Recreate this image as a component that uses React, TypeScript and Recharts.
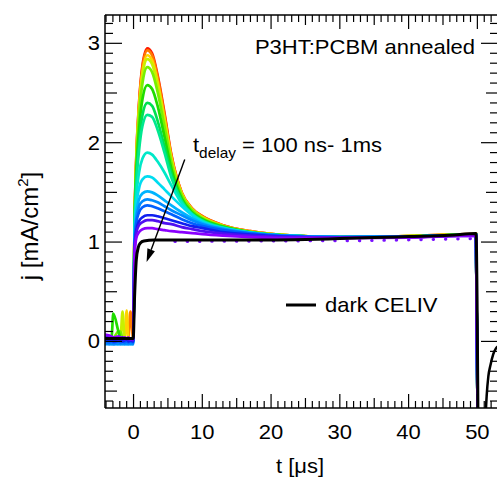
import { LineChart, Line, XAxis, YAxis, ReferenceLine } from "recharts";

const FONT = "'Liberation Sans', Arial, Helvetica, sans-serif";

// time grid (µs) shared by the photo-CELIV transients
const T = [
  -4.2, -3.5, -3.2, -2.95, -2.2, -1.9, -1.6, -1.3, -1.0, -0.75, -0.45, -0.05,
  0.15, 0.4, 0.8, 1.3, 2, 2.7, 3.5, 4.5, 5.5, 7, 8.5, 10, 13, 17, 22, 30, 40, 49.8, 50.05,
];

// current density (mA/cm²), one array per delay time, largest extraction peak first
const J1 = [0.03, 0.02, 0.03, 0.02, 0.03, 0.02, 0.03, 0.02, 0.03, 0.02, 0.03, 0.03,
  1.2, 1.85, 2.4, 2.78, 2.95, 2.9, 2.68, 2.3, 1.88, 1.5, 1.34, 1.26, 1.17, 1.11, 1.07, 1.05, 1.06, 1.08, -0.9];
const J2 = [0.03, 0.03, 0.02, 0.03, 0.02, 0.03, 0.02, 0.03, 0.02, 0.03, 0.3, 0.03,
  1.2, 1.84, 2.38, 2.76, 2.93, 2.88, 2.66, 2.28, 1.87, 1.5, 1.34, 1.26, 1.17, 1.11, 1.07, 1.05, 1.06, 1.08, -0.9];
const J3 = [0.02, 0.03, 0.03, 0.02, 0.03, 0.02, 0.03, 0.02, 0.31, 0.03, 0.03, 0.02,
  1.19, 1.82, 2.35, 2.71, 2.88, 2.83, 2.61, 2.24, 1.85, 1.49, 1.33, 1.25, 1.165, 1.105, 1.07, 1.05, 1.06, 1.08, -0.9];
const J4 = [0.03, 0.02, 0.03, 0.03, 0.02, 0.03, 0.3, 0.03, 0.02, 0.03, 0.02, 0.03,
  1.18, 1.8, 2.32, 2.68, 2.84, 2.79, 2.58, 2.21, 1.83, 1.48, 1.33, 1.25, 1.16, 1.1, 1.07, 1.05, 1.06, 1.075, -0.9];
const J5 = [0.02, 0.03, 0.02, 0.03, 0.1, 0.1, 0.03, 0.02, 0.03, 0.02, 0.03, 0.02,
  1.17, 1.77, 2.26, 2.6, 2.76, 2.71, 2.51, 2.16, 1.8, 1.47, 1.32, 1.24, 1.16, 1.1, 1.07, 1.05, 1.06, 1.075, -0.9];
const J6 = [0.02, 0.02, 0.03, 0.28, 0.1, 0.03, 0.02, 0.03, 0.02, 0.03, 0.02, 0.02,
  1.15, 1.7, 2.13, 2.44, 2.58, 2.54, 2.37, 2.06, 1.74, 1.44, 1.3, 1.23, 1.155, 1.1, 1.065, 1.05, 1.055, 1.075, -0.9];
const J7 = [0.01, 0.02, 0.01, 0.02, 0.01, 0.02, 0.01, 0.02, 0.01, 0.02, 0.01, 0.02,
  1.13, 1.63, 2.0, 2.28, 2.4, 2.37, 2.22, 1.96, 1.69, 1.42, 1.29, 1.22, 1.15, 1.095, 1.065, 1.05, 1.055, 1.075, -0.9];
const J8 = [0.0, 0.01, 0.0, 0.01, 0.0, 0.01, 0.0, 0.01, 0.0, 0.01, 0.0, 0.01,
  1.12, 1.58, 1.92, 2.17, 2.28, 2.26, 2.13, 1.9, 1.65, 1.41, 1.28, 1.215, 1.145, 1.095, 1.065, 1.05, 1.055, 1.075, -0.9];
const J9 = [-0.01, 0.0, -0.01, 0.0, -0.01, 0.0, -0.01, 0.0, -0.01, 0.0, -0.01, 0.0,
  1.08, 1.45, 1.7, 1.84, 1.9, 1.88, 1.81, 1.7, 1.57, 1.39, 1.28, 1.21, 1.14, 1.095, 1.065, 1.05, 1.055, 1.07, -0.9];
const J10 = [-0.02, -0.01, -0.02, -0.01, -0.02, -0.01, -0.02, -0.01, -0.02, -0.01, -0.02, -0.01,
  1.04, 1.35, 1.54, 1.63, 1.66, 1.65, 1.6, 1.53, 1.46, 1.36, 1.27, 1.2, 1.14, 1.095, 1.065, 1.05, 1.055, 1.07, -0.9];
const J11 = [-0.03, -0.02, -0.03, -0.02, -0.03, -0.02, -0.03, -0.02, -0.03, -0.02, -0.03, -0.02,
  1.0, 1.28, 1.43, 1.49, 1.51, 1.5, 1.47, 1.42, 1.37, 1.3, 1.24, 1.19, 1.135, 1.09, 1.065, 1.05, 1.055, 1.07, -0.9];
const J12 = [-0.02, -0.03, -0.02, -0.03, -0.02, -0.03, -0.02, -0.03, -0.02, -0.03, -0.02, -0.03,
  0.98, 1.23, 1.36, 1.41, 1.43, 1.42, 1.4, 1.36, 1.32, 1.27, 1.22, 1.18, 1.13, 1.09, 1.065, 1.05, 1.055, 1.07, -0.9];
const J13 = [0.0, -0.01, 0.0, -0.01, 0.0, -0.01, 0.0, -0.01, 0.0, -0.01, 0.0, -0.01,
  0.96, 1.19, 1.3, 1.35, 1.37, 1.36, 1.34, 1.31, 1.28, 1.23, 1.19, 1.16, 1.12, 1.085, 1.06, 1.05, 1.055, 1.07, -0.9];
const J14 = [0.02, 0.01, 0.02, 0.0, 0.01, 0.02, 0.0, 0.01, 0.02, 0.0, 0.01, 0.0,
  0.93, 1.12, 1.21, 1.25, 1.27, 1.27, 1.26, 1.24, 1.22, 1.19, 1.16, 1.14, 1.1, 1.075, 1.055, 1.045, 1.05, 1.07, -0.9];
const J15 = [0.05, 0.04, 0.03, 0.04, 0.02, 0.03, 0.04, 0.02, 0.03, 0.02, 0.03, 0.01,
  0.91, 1.09, 1.17, 1.2, 1.22, 1.22, 1.21, 1.19, 1.18, 1.15, 1.13, 1.11, 1.085, 1.065, 1.05, 1.045, 1.05, 1.065, -0.9];
const J16 = [0.07, 0.06, 0.05, 0.04, 0.05, 0.04, 0.03, 0.04, 0.03, 0.04, 0.02, 0.03,
  0.88, 1.04, 1.1, 1.13, 1.14, 1.14, 1.13, 1.12, 1.11, 1.1, 1.09, 1.08, 1.065, 1.05, 1.04, 1.04, 1.045, 1.065, -0.9];

const SERIES = [J1, J2, J3, J4, J5, J6, J7, J8, J9, J10, J11, J12, J13, J14, J15, J16];
const COLORS = [
  "#ff1a00", "#ff7a00", "#ffd400", "#c8f000", "#78f000", "#20dc00", "#00e050", "#00e890",
  "#00e8c8", "#00dcf0", "#00b4ff", "#008cff", "#0060ff", "#1020f0", "#5010f0", "#8a00ff",
];

// dark CELIV
const DARK_T = [-4.2, -2.5, -0.05, 0.15, 0.4, 0.7, 1.0, 1.5, 3, 6, 10, 15, 20, 25, 30, 35, 40, 46, 49.8, 50.1];
const DARK_J = [0.03, 0.03, 0.03, 0.45, 0.82, 0.95, 0.99, 1.01, 1.02, 1.02, 1.02, 1.02, 1.02, 1.025, 1.035, 1.045, 1.055, 1.068, 1.085, -0.9];
// recovery after the voltage ramp ends
const REC_T = [51.1, 51.35, 51.6, 51.9, 52.3, 52.7, 53.2];
const REC_J = [-0.9, -0.55, -0.35, -0.24, -0.13, -0.07, -0.04];
// noisy points of the longest delay trace
const DOT_T = [6, 20, 35, 49.5];
const DOT_J = [1.005, 1.01, 1.015, 1.035];

const X_TICKS = [-4, -3, -2, -1, 0, 1, 2, 3, 4, 5, 6, 7, 8, 9, 10, 11, 12, 13, 14, 15, 16, 17, 18, 19, 20,
  21, 22, 23, 24, 25, 26, 27, 28, 29, 30, 31, 32, 33, 34, 35, 36, 37, 38, 39, 40, 41, 42, 43, 44, 45,
  46, 47, 48, 49, 50, 51, 52];
const Y_TICKS = [-0.6, -0.5, -0.4, -0.3, -0.2, -0.1, 0, 0.1, 0.2, 0.3, 0.4, 0.5, 0.6, 0.7, 0.8, 0.9, 1,
  1.1, 1.2, 1.3, 1.4, 1.5, 1.6, 1.7, 1.8, 1.9, 2, 2.1, 2.2, 2.3, 2.4, 2.5, 2.6, 2.7, 2.8, 2.9, 3, 3.1, 3.2];

const rows = (ts: number[], js: number[]) => ts.map((t, i) => ({ t, j: js[i] }));

const isInt = (v: number) => Math.abs(v - Math.round(v)) < 1e-6;
const isHalf = (v: number) => Math.abs(v * 2 - Math.round(v * 2)) < 1e-6;

const SX = "scale(1.1,1)";

function Txt({ x, y, anchor = "start", size = 20, children }: any) {
  return (
    <g transform={`translate(${x},${y})`}>
      <text transform={SX} textAnchor={anchor} fontSize={size} fontFamily={FONT} fill="#000">
        {children}
      </text>
    </g>
  );
}

function BottomTick({ x, y, payload }: any) {
  const v = payload.value;
  const len = v % 10 === 0 ? 14 : v % 5 === 0 ? 10 : 7;
  return (
    <g>
      <line x1={x} x2={x} y1={y} y2={y - len} stroke="#000" strokeWidth={1.2} />
      {v % 10 === 0 && <Txt x={x} y={y + 31} anchor="middle">{v}</Txt>}
    </g>
  );
}

function TopTick({ x, y, payload }: any) {
  const v = payload.value;
  const len = v % 10 === 0 ? 14 : v % 5 === 0 ? 10 : 7;
  return <line x1={x} x2={x} y1={y} y2={y + len} stroke="#000" strokeWidth={1.2} />;
}

function LeftTick({ x, y, payload }: any) {
  const v = payload.value;
  const len = isInt(v) ? 17 : isHalf(v) ? 12 : 8;
  return (
    <g>
      <line x1={x} x2={x + len} y1={y} y2={y} stroke="#000" strokeWidth={1.2} />
      {isInt(v) && <Txt x={x - 5} y={y + 7} anchor="end">{Math.round(v)}</Txt>}
    </g>
  );
}

function RightTick({ x, y, payload }: any) {
  const v = payload.value;
  const len = isInt(v) ? 17 : isHalf(v) ? 12 : 8;
  return <line x1={x} x2={x - len} y1={y} y2={y} stroke="#000" strokeWidth={1.2} />;
}

function Arrow(p: any) {
  const { x1, y1, x2, y2 } = p;
  if ([x1, y1, x2, y2].some((v) => typeof v !== "number" || isNaN(v))) return <g />;
  const a = Math.atan2(y2 - y1, x2 - x1);
  const L = 13, W = 4;
  const bx = x2 - L * Math.cos(a), by = y2 - L * Math.sin(a);
  const nx = -Math.sin(a) * W, ny = Math.cos(a) * W;
  return (
    <g>
      <line x1={x1} y1={y1} x2={bx} y2={by} stroke="#000" strokeWidth={1.4} />
      <polygon points={`${x2},${y2} ${bx + nx},${by + ny} ${bx - nx},${by - ny}`} fill="#000" />
    </g>
  );
}

const axisLine = { stroke: "#000", strokeWidth: 1.5 };

export default function App() {
  return (
    <div style={{ position: "absolute", left: 0, top: 0, width: 497, height: 479, overflow: "hidden", background: "#fff" }}>
      <LineChart width={499} height={479} margin={{ top: 0, right: 0, bottom: 0, left: 0 }}>
        <XAxis dataKey="t" type="number" domain={[-4.15, 53]} allowDataOverflow ticks={X_TICKS} interval={0}
          tickSize={0} tickMargin={0} tickLine={false} axisLine={axisLine} tick={BottomTick} height={71} />
        <XAxis xAxisId="top" orientation="top" dataKey="t" type="number" domain={[-4.15, 53]} allowDataOverflow
          ticks={X_TICKS} interval={0} tickSize={0} tickMargin={0} tickLine={false} axisLine={axisLine} tick={TopTick} height={15} />
        <YAxis type="number" domain={[-0.67, 3.285]} allowDataOverflow ticks={Y_TICKS} interval={0}
          tickSize={0} tickMargin={0} tickLine={false} axisLine={axisLine} tick={LeftTick} width={105} />
        <YAxis yAxisId="r" orientation="right" type="number" domain={[-0.67, 3.285]} allowDataOverflow ticks={Y_TICKS}
          interval={0} tickSize={0} tickMargin={0} tickLine={false} axisLine={axisLine} tick={RightTick} width={1} />
        {SERIES.map((s, i) => (
          <Line key={i} data={rows(T, s)} dataKey="j" type="monotone" stroke={COLORS[i]} strokeWidth={2.7}
            dot={false} isAnimationActive={false} />
        ))}
        <Line data={rows(DOT_T, DOT_J)} dataKey="j" type="linear" stroke="#7a10ff" strokeWidth={3}
          strokeDasharray="0.5 11.8" strokeLinecap="round" dot={false} isAnimationActive={false} />
        <Line data={rows(DARK_T, DARK_J)} dataKey="j" type="monotone" stroke="#000" strokeWidth={3}
          dot={false} isAnimationActive={false} />
        <Line data={rows(REC_T, REC_J)} dataKey="j" type="monotone" stroke="#000" strokeWidth={2.5}
          dot={false} isAnimationActive={false} />
        <ReferenceLine segment={[{ x: 7.45, y: 1.83 }, { x: 1.9, y: 0.8 }]} stroke="#000" shape={Arrow} />
      </LineChart>
      <svg width={497} height={479} style={{ position: "absolute", left: 0, top: 0, pointerEvents: "none" }}>
        <Txt x={475} y={54} anchor="end">P3HT:PCBM annealed</Txt>
        <g transform="translate(193,152)">
          <text transform={SX} fontSize={20} fontFamily={FONT}>
            t<tspan fontSize={14} dy={6}>delay</tspan><tspan dy={-6}> = 100 ns- 1ms</tspan>
          </text>
        </g>
        <line x1={286} x2={316} y1={305} y2={305} stroke="#000" strokeWidth={3} />
        <Txt x={325} y={312}>dark CELIV</Txt>
        <Txt x={300} y={473} anchor="middle">t [μs]</Txt>
        <g transform="translate(38,226) rotate(-90)">
          <text textAnchor="middle" fontSize={24} fontFamily={FONT}>
            j [mA/cm<tspan fontSize={15} dy={-10}>2</tspan><tspan dy={10}>]</tspan>
          </text>
        </g>
      </svg>
    </div>
  );
}
